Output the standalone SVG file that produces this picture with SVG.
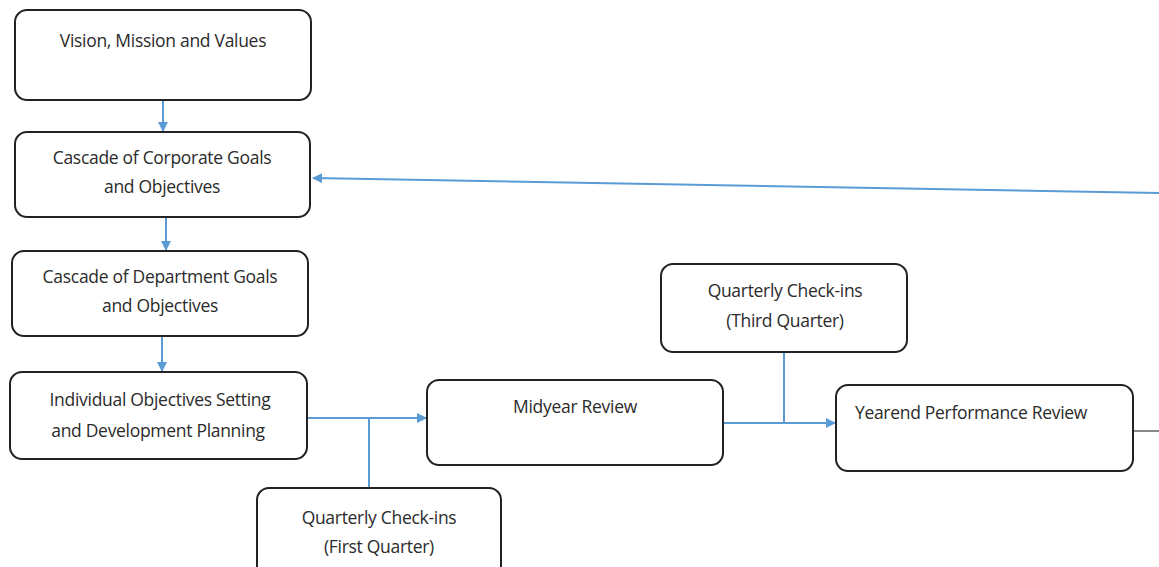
<svg xmlns="http://www.w3.org/2000/svg" width="1159" height="567" viewBox="0 0 1159 567">
<style>
.box{fill:#fff;stroke:#222;stroke-width:2}
.t{font-family:"Open Sans","Liberation Sans",sans-serif;font-size:17.5px;fill:#2b2b2b;text-anchor:middle;letter-spacing:-0.3px}
.c{fill:none;stroke:#5b9bd5;stroke-width:2}
</style>
<defs>
<marker id="ah" markerWidth="10" markerHeight="10" refX="9" refY="5" orient="auto" markerUnits="userSpaceOnUse">
<path d="M0,0 L10,5 L0,10 Z" fill="#5b9bd5"/>
</marker>
</defs>
<rect width="1159" height="567" fill="#fff"/>
<g id="connectors">
<line class="c" x1="163" y1="100" x2="163" y2="131" marker-end="url(#ah)"/>
<line class="c" x1="166" y1="217" x2="166" y2="250" marker-end="url(#ah)"/>
<line class="c" x1="162" y1="336" x2="162" y2="371" marker-end="url(#ah)"/>
<line class="c" x1="307" y1="418" x2="426" y2="418" marker-end="url(#ah)"/>
<line class="c" x1="369" y1="487" x2="369" y2="418"/>
<line class="c" x1="723" y1="423" x2="835" y2="423" marker-end="url(#ah)"/>
<line class="c" x1="784" y1="352" x2="784" y2="423"/>
<line class="c" x1="1133" y1="431" x2="1159" y2="431" style="stroke:#888"/>
<line class="c" x1="1159" y1="193" x2="313" y2="178" marker-end="url(#ah)"/>
</g>
<g id="n1"><rect class="box" x="15" y="10" width="296" height="90" rx="12"/><text class="t" x="163" y="47">Vision, Mission and Values</text></g>
<g id="n2"><rect class="box" x="15" y="132" width="295" height="85" rx="12"/><text class="t" x="162" y="164">Cascade of Corporate Goals</text><text class="t" x="162" y="193">and Objectives</text></g>
<g id="n3"><rect class="box" x="12" y="251" width="296" height="85" rx="12"/><text class="t" x="160" y="283">Cascade of Department Goals</text><text class="t" x="160" y="312">and Objectives</text></g>
<g id="n4"><rect class="box" x="10" y="372" width="297" height="87" rx="12"/><text class="t" x="160" y="406">Individual Objectives Setting</text><text class="t" x="158" y="437">and Development Planning</text></g>
<g id="n5"><rect class="box" x="427" y="380" width="296" height="85" rx="12"/><text class="t" x="575" y="413">Midyear Review</text></g>
<g id="n6"><rect class="box" x="661" y="264" width="246" height="88" rx="12"/><text class="t" x="785" y="297">Quarterly Check-ins</text><text class="t" x="785" y="327">(Third Quarter)</text></g>
<g id="n7"><rect class="box" x="836" y="385" width="297" height="86" rx="12"/><text class="t" x="971" y="419">Yearend Performance Review</text></g>
<g id="n8"><rect class="box" x="257" y="488" width="244" height="90" rx="12"/><text class="t" x="379" y="524">Quarterly Check-ins</text><text class="t" x="379" y="553">(First Quarter)</text></g>
</svg>
